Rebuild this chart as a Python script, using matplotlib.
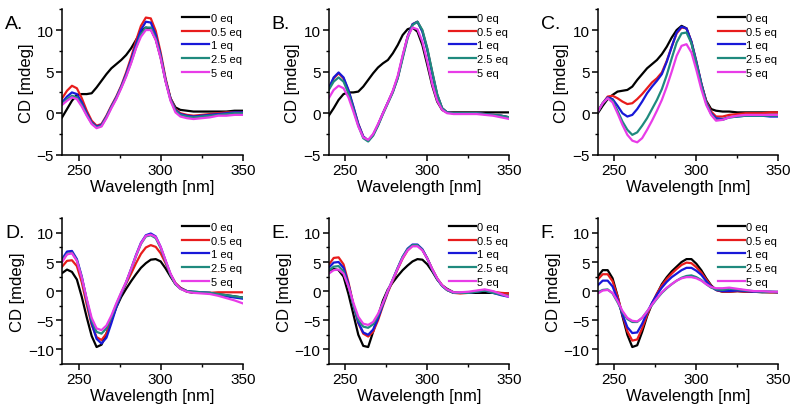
import matplotlib
matplotlib.use("Agg")
import matplotlib.pyplot as plt
from matplotlib.ticker import MultipleLocator

plt.rcParams['font.family'] = ['Liberation Sans', 'DejaVu Sans']

# wavelength grid (nm)
wl = [240, 243, 246, 249, 252, 255, 258, 261, 264, 267, 270, 273, 276, 279, 282,
      285, 288, 291, 294, 297, 300, 303, 306, 309, 312, 316, 320, 325, 330, 335,
      340, 345, 350]

labels = ['0 eq', '0.5 eq', '1 eq', '2.5 eq', '5 eq']
colors = ['#000000', '#e81c1c', '#1818d8', '#1f8a7e', '#e83ce8']
panels = ['A.', 'B.', 'C.', 'D.', 'E.', 'F.']

# CD [mdeg] for each panel, order: 0, 0.5, 1, 2.5, 5 eq
A_0 = [-0.5, 0.5, 1.5, 2.2, 2.3, 2.3, 2.4, 3.1, 3.9, 4.7, 5.4, 5.9, 6.4, 7.0, 7.8, 8.8, 9.8, 10.3, 10.1, 8.9, 6.7, 3.9, 1.8, 0.7, 0.4, 0.3, 0.2, 0.2, 0.2, 0.2, 0.2, 0.3, 0.3]
A_05 = [1.8, 2.7, 3.3, 3.0, 1.8, 0.3, -0.9, -1.5, -1.3, -0.3, 0.9, 2.0, 3.3, 4.9, 6.7, 8.7, 10.5, 11.5, 11.4, 9.9, 7.3, 4.2, 1.8, 0.5, 0.0, -0.2, -0.3, -0.2, -0.1, 0.0, 0.1, 0.1, 0.1]
A_1 = [1.3, 2.0, 2.5, 2.3, 1.3, 0.0, -1.1, -1.6, -1.4, -0.4, 0.8, 1.9, 3.2, 4.7, 6.4, 8.3, 10.0, 11.0, 10.9, 9.4, 7.0, 4.0, 1.7, 0.4, -0.1, -0.3, -0.4, -0.3, -0.2, -0.1, 0.0, 0.1, 0.1]
A_25 = [1.1, 1.7, 2.1, 1.9, 1.0, -0.2, -1.2, -1.7, -1.5, -0.5, 0.7, 1.8, 3.1, 4.5, 6.1, 7.9, 9.5, 10.3, 10.3, 9.0, 6.8, 3.9, 1.6, 0.3, -0.2, -0.4, -0.5, -0.4, -0.3, -0.2, -0.1, 0.0, 0.0]
A_5 = [1.0, 1.5, 1.9, 1.7, 0.8, -0.3, -1.3, -1.8, -1.6, -0.6, 0.6, 1.7, 3.0, 4.4, 6.0, 7.8, 9.2, 10.0, 10.0, 8.8, 6.6, 3.8, 1.5, 0.1, -0.4, -0.6, -0.7, -0.6, -0.5, -0.3, -0.3, -0.2, -0.2]

B_0 = [-0.3, 0.6, 1.6, 2.3, 2.5, 2.5, 2.6, 3.2, 4.0, 4.8, 5.5, 6.0, 6.4, 7.2, 8.2, 9.4, 10.1, 10.3, 9.8, 8.2, 5.8, 3.3, 1.4, 0.4, 0.1, 0.1, 0.1, 0.1, 0.1, 0.1, 0.1, 0.1, 0.1]
B_05 = [2.9, 4.2, 4.8, 4.2, 2.7, 0.7, -1.3, -2.8, -3.3, -2.6, -1.4, 0.0, 1.3, 2.6, 4.3, 6.8, 9.2, 10.7, 11.0, 9.9, 7.7, 4.9, 2.2, 0.6, 0.1, 0.0, 0.0, 0.0, 0.0, -0.1, -0.2, -0.3, -0.5]
B_1 = [3.0, 4.3, 4.9, 4.3, 2.8, 0.8, -1.3, -2.8, -3.3, -2.6, -1.4, 0.0, 1.3, 2.6, 4.3, 6.8, 9.2, 10.7, 11.0, 9.8, 7.6, 4.8, 2.2, 0.6, 0.1, 0.0, 0.0, 0.0, 0.0, -0.1, -0.2, -0.3, -0.5]
B_25 = [2.8, 3.8, 4.3, 3.8, 2.4, 0.5, -1.5, -3.0, -3.4, -2.7, -1.5, -0.1, 1.2, 2.5, 4.2, 6.6, 9.0, 10.6, 11.0, 10.0, 7.8, 5.0, 2.3, 0.6, 0.1, 0.0, 0.0, 0.0, 0.0, -0.1, -0.2, -0.3, -0.5]
B_5 = [1.8, 2.8, 3.3, 3.0, 1.9, 0.2, -1.6, -2.9, -3.2, -2.5, -1.3, 0.0, 1.3, 2.7, 4.5, 7.0, 9.2, 10.3, 10.1, 8.6, 6.2, 3.5, 1.5, 0.4, 0.0, -0.1, -0.1, -0.1, -0.1, -0.2, -0.3, -0.5, -0.7]

C_0 = [0.0, 0.9, 1.7, 2.2, 2.6, 2.7, 2.8, 3.2, 4.0, 4.7, 5.4, 5.9, 6.4, 7.1, 8.0, 9.1, 10.0, 10.5, 10.2, 8.5, 6.0, 3.5, 1.5, 0.5, 0.3, 0.2, 0.2, 0.1, 0.1, 0.1, 0.1, 0.1, 0.1]
C_05 = [0.2, 1.2, 2.0, 2.1, 1.8, 1.4, 1.1, 1.2, 1.7, 2.3, 3.0, 3.7, 4.2, 4.9, 6.3, 8.0, 9.6, 10.3, 10.2, 8.6, 6.2, 3.6, 1.4, 0.2, -0.4, -0.4, -0.2, -0.1, 0.0, 0.0, 0.0, 0.1, 0.1]
C_1 = [0.2, 1.2, 1.9, 1.7, 0.9, 0.0, -0.4, -0.2, 0.5, 1.4, 2.4, 3.2, 3.9, 4.7, 6.2, 8.0, 9.7, 10.4, 10.2, 8.6, 6.2, 3.6, 1.3, 0.0, -0.6, -0.7, -0.5, -0.4, -0.3, -0.3, -0.3, -0.4, -0.4]
C_25 = [0.2, 1.2, 1.8, 1.5, 0.3, -1.0, -2.0, -2.6, -2.3, -1.5, -0.6, 0.5, 1.6, 2.9, 4.6, 6.6, 8.5, 9.6, 9.7, 8.4, 6.0, 3.4, 1.2, -0.1, -0.8, -0.8, -0.5, -0.4, -0.3, -0.3, -0.3, -0.3, -0.3]
C_5 = [0.2, 1.2, 1.8, 1.3, 0.0, -1.4, -2.6, -3.3, -3.5, -3.0, -2.0, -0.9, 0.3, 1.6, 3.2, 5.0, 6.9, 8.1, 8.3, 7.3, 5.2, 2.9, 1.0, -0.2, -0.9, -0.8, -0.5, -0.3, -0.2, -0.2, -0.2, -0.2, -0.2]

D_0 = [3.1, 3.7, 3.3, 2.0, -1.0, -4.5, -7.7, -9.6, -9.2, -7.3, -5.0, -2.8, -1.0, 0.4, 1.7, 2.9, 4.0, 4.8, 5.4, 5.5, 5.1, 3.9, 2.5, 1.2, 0.5, -0.1, -0.3, -0.3, -0.3, -0.5, -0.7, -0.9, -1.1]
D_05 = [4.2, 5.2, 5.3, 4.3, 1.5, -2.3, -5.8, -7.9, -8.4, -7.3, -5.0, -2.6, -0.5, 1.3, 3.0, 4.8, 6.4, 7.5, 7.9, 7.6, 6.5, 4.8, 2.9, 1.4, 0.6, 0.0, -0.2, -0.3, -0.3, -0.2, -0.2, -0.2, -0.2]
D_1 = [5.5, 6.8, 6.9, 5.5, 2.5, -1.6, -5.5, -8.2, -9.0, -8.0, -5.5, -2.8, -0.5, 1.5, 3.8, 6.2, 8.3, 9.6, 9.9, 9.4, 7.6, 5.2, 2.9, 1.3, 0.5, 0.0, -0.1, -0.2, -0.3, -0.6, -0.9, -1.1, -1.3]
D_25 = [5.2, 6.4, 6.6, 5.3, 2.3, -1.5, -5.0, -7.0, -7.3, -6.4, -4.5, -2.3, -0.3, 1.5, 3.7, 6.0, 8.1, 9.4, 9.6, 9.1, 7.4, 5.1, 2.8, 1.2, 0.4, 0.0, -0.1, -0.2, -0.3, -0.5, -0.7, -0.9, -1.1]
D_5 = [5.0, 6.3, 6.5, 5.2, 2.3, -1.3, -4.6, -6.4, -6.7, -5.9, -4.2, -2.1, -0.2, 1.6, 3.8, 6.1, 8.2, 9.5, 9.7, 9.3, 7.6, 5.3, 3.0, 1.3, 0.4, -0.1, -0.3, -0.4, -0.5, -0.8, -1.2, -1.6, -2.1]

E_0 = [3.5, 3.8, 3.6, 2.5, -0.5, -4.0, -7.5, -9.4, -9.6, -7.0, -4.3, -1.6, 0.3, 1.5, 2.6, 3.6, 4.4, 5.1, 5.5, 5.4, 4.6, 3.4, 2.0, 1.0, 0.4, -0.2, -0.3, -0.3, -0.3, -0.3, -0.3, -0.4, -0.4]
E_05 = [4.5, 5.7, 5.8, 4.6, 1.5, -2.3, -5.5, -7.3, -7.8, -7.0, -5.0, -2.5, -0.2, 1.8, 3.8, 5.6, 7.0, 7.8, 7.9, 7.1, 5.6, 3.8, 2.2, 1.0, 0.2, -0.3, -0.4, -0.3, 0.0, 0.2, -0.1, -0.3, -0.4]
E_1 = [4.0, 4.9, 5.0, 4.0, 1.2, -2.4, -5.4, -7.1, -7.5, -6.6, -4.7, -2.3, 0.0, 2.0, 4.0, 5.9, 7.3, 8.0, 8.0, 7.2, 5.6, 3.7, 2.1, 0.9, 0.2, -0.3, -0.3, -0.3, -0.1, 0.1, -0.3, -0.7, -1.0]
E_25 = [3.5, 4.2, 4.3, 3.4, 0.8, -2.4, -5.0, -6.1, -6.3, -5.7, -4.2, -2.1, 0.1, 2.0, 4.0, 5.9, 7.2, 7.9, 7.9, 7.1, 5.6, 3.7, 2.1, 0.9, 0.2, -0.3, -0.3, -0.3, -0.1, 0.1, -0.3, -0.6, -0.9]
E_5 = [3.0, 3.6, 3.7, 3.0, 0.8, -2.0, -4.4, -5.6, -5.8, -5.3, -3.9, -2.0, 0.1, 2.0, 3.9, 5.7, 7.0, 7.7, 7.7, 7.0, 5.6, 3.8, 2.2, 1.0, 0.3, -0.2, -0.2, -0.1, 0.1, 0.3, 0.0, -0.5, -1.0]

F_0 = [2.5, 3.6, 3.6, 2.2, -0.8, -4.3, -7.5, -9.6, -9.3, -7.0, -4.3, -2.2, -0.5, 1.2, 2.4, 3.4, 4.2, 5.0, 5.5, 5.5, 4.7, 3.6, 2.2, 1.0, 0.2, -0.1, -0.1, 0.0, -0.1, -0.1, -0.2, -0.2, -0.2]
F_05 = [2.0, 2.9, 2.9, 1.7, -0.9, -4.0, -6.9, -8.5, -8.3, -6.4, -4.1, -2.1, -0.4, 1.0, 2.1, 3.0, 3.8, 4.5, 4.9, 4.8, 4.1, 3.2, 2.0, 0.9, 0.2, -0.1, -0.1, 0.0, -0.1, -0.1, -0.1, -0.2, -0.2]
F_1 = [1.0, 1.8, 1.8, 0.8, -1.4, -4.0, -6.2, -7.2, -7.1, -5.6, -3.7, -2.0, -0.6, 0.6, 1.6, 2.4, 3.0, 3.6, 4.0, 4.0, 3.5, 2.8, 1.7, 0.8, 0.2, 0.0, 0.0, 0.1, 0.0, -0.1, -0.1, -0.1, -0.2]
F_25 = [-0.2, 0.2, 0.3, -0.4, -1.9, -3.6, -4.8, -5.3, -5.3, -4.6, -3.5, -2.4, -1.3, -0.3, 0.5, 1.2, 1.8, 2.3, 2.6, 2.7, 2.4, 1.9, 1.2, 0.6, 0.3, 0.2, 0.4, 0.3, 0.1, 0.0, -0.1, -0.1, -0.1]
F_5 = [-0.4, 0.1, 0.2, -0.3, -1.7, -3.4, -4.6, -5.1, -5.2, -4.6, -3.5, -2.3, -1.2, -0.2, 0.6, 1.2, 1.8, 2.2, 2.4, 2.4, 2.2, 1.8, 1.2, 0.7, 0.5, 0.5, 0.6, 0.4, 0.2, 0.0, 0.0, -0.1, -0.1]

data = [[A_0, A_05, A_1, A_25, A_5],
        [B_0, B_05, B_1, B_25, B_5],
        [C_0, C_05, C_1, C_25, C_5],
        [D_0, D_05, D_1, D_25, D_5],
        [E_0, E_05, E_1, E_25, E_5],
        [F_0, F_05, F_1, F_25, F_5]]

fig = plt.figure(figsize=(7.96, 4.10), dpi=100)

lefts = [0.078, 0.413, 0.751]
W = 0.227
bottoms = [0.62, 0.11]
H = 0.355

for i in range(6):
    row, col = divmod(i, 3)
    ax = fig.add_axes([lefts[col], bottoms[row], W, H])
    for series, lab, c in zip(data[i], labels, colors):
        ax.plot(wl, series, color=c, lw=1.6, label=lab)

    ax.set_xlim(240, 350)
    if row == 0:
        ax.set_ylim(-5, 12.5)
    else:
        ax.set_ylim(-12.5, 12.5)
    ax.yaxis.set_major_locator(MultipleLocator(5))
    ax.yaxis.set_minor_locator(MultipleLocator(2.5))
    ax.xaxis.set_major_locator(MultipleLocator(50))
    ax.xaxis.set_minor_locator(MultipleLocator(25))

    for s in ['top', 'right']:
        ax.spines[s].set_visible(False)
    for s in ['left', 'bottom']:
        ax.spines[s].set_linewidth(1.1)
    ax.tick_params(which='major', direction='out', length=4, width=1.1, labelsize=11, pad=2)
    ax.tick_params(which='minor', direction='out', length=2.5, width=1.0)

    ax.set_xlabel('Wavelength [nm]', fontsize=12, labelpad=1)
    ax.set_ylabel('CD [mdeg]', fontsize=12, labelpad=2)

    ax.legend(loc='upper left', bbox_to_anchor=(0.665, 0.975), frameon=False,
              fontsize=8, handlelength=2.4, handletextpad=0.15,
              labelspacing=0.33, borderpad=0, borderaxespad=0)

    x0 = lefts[col] * 796 - 57
    y0 = (bottoms[row] + H) * 410 - 14
    fig.text(x0 / 796, y0 / 410, panels[i], fontsize=14, va='center', ha='left')

fig.savefig('out.png', dpi=100)
